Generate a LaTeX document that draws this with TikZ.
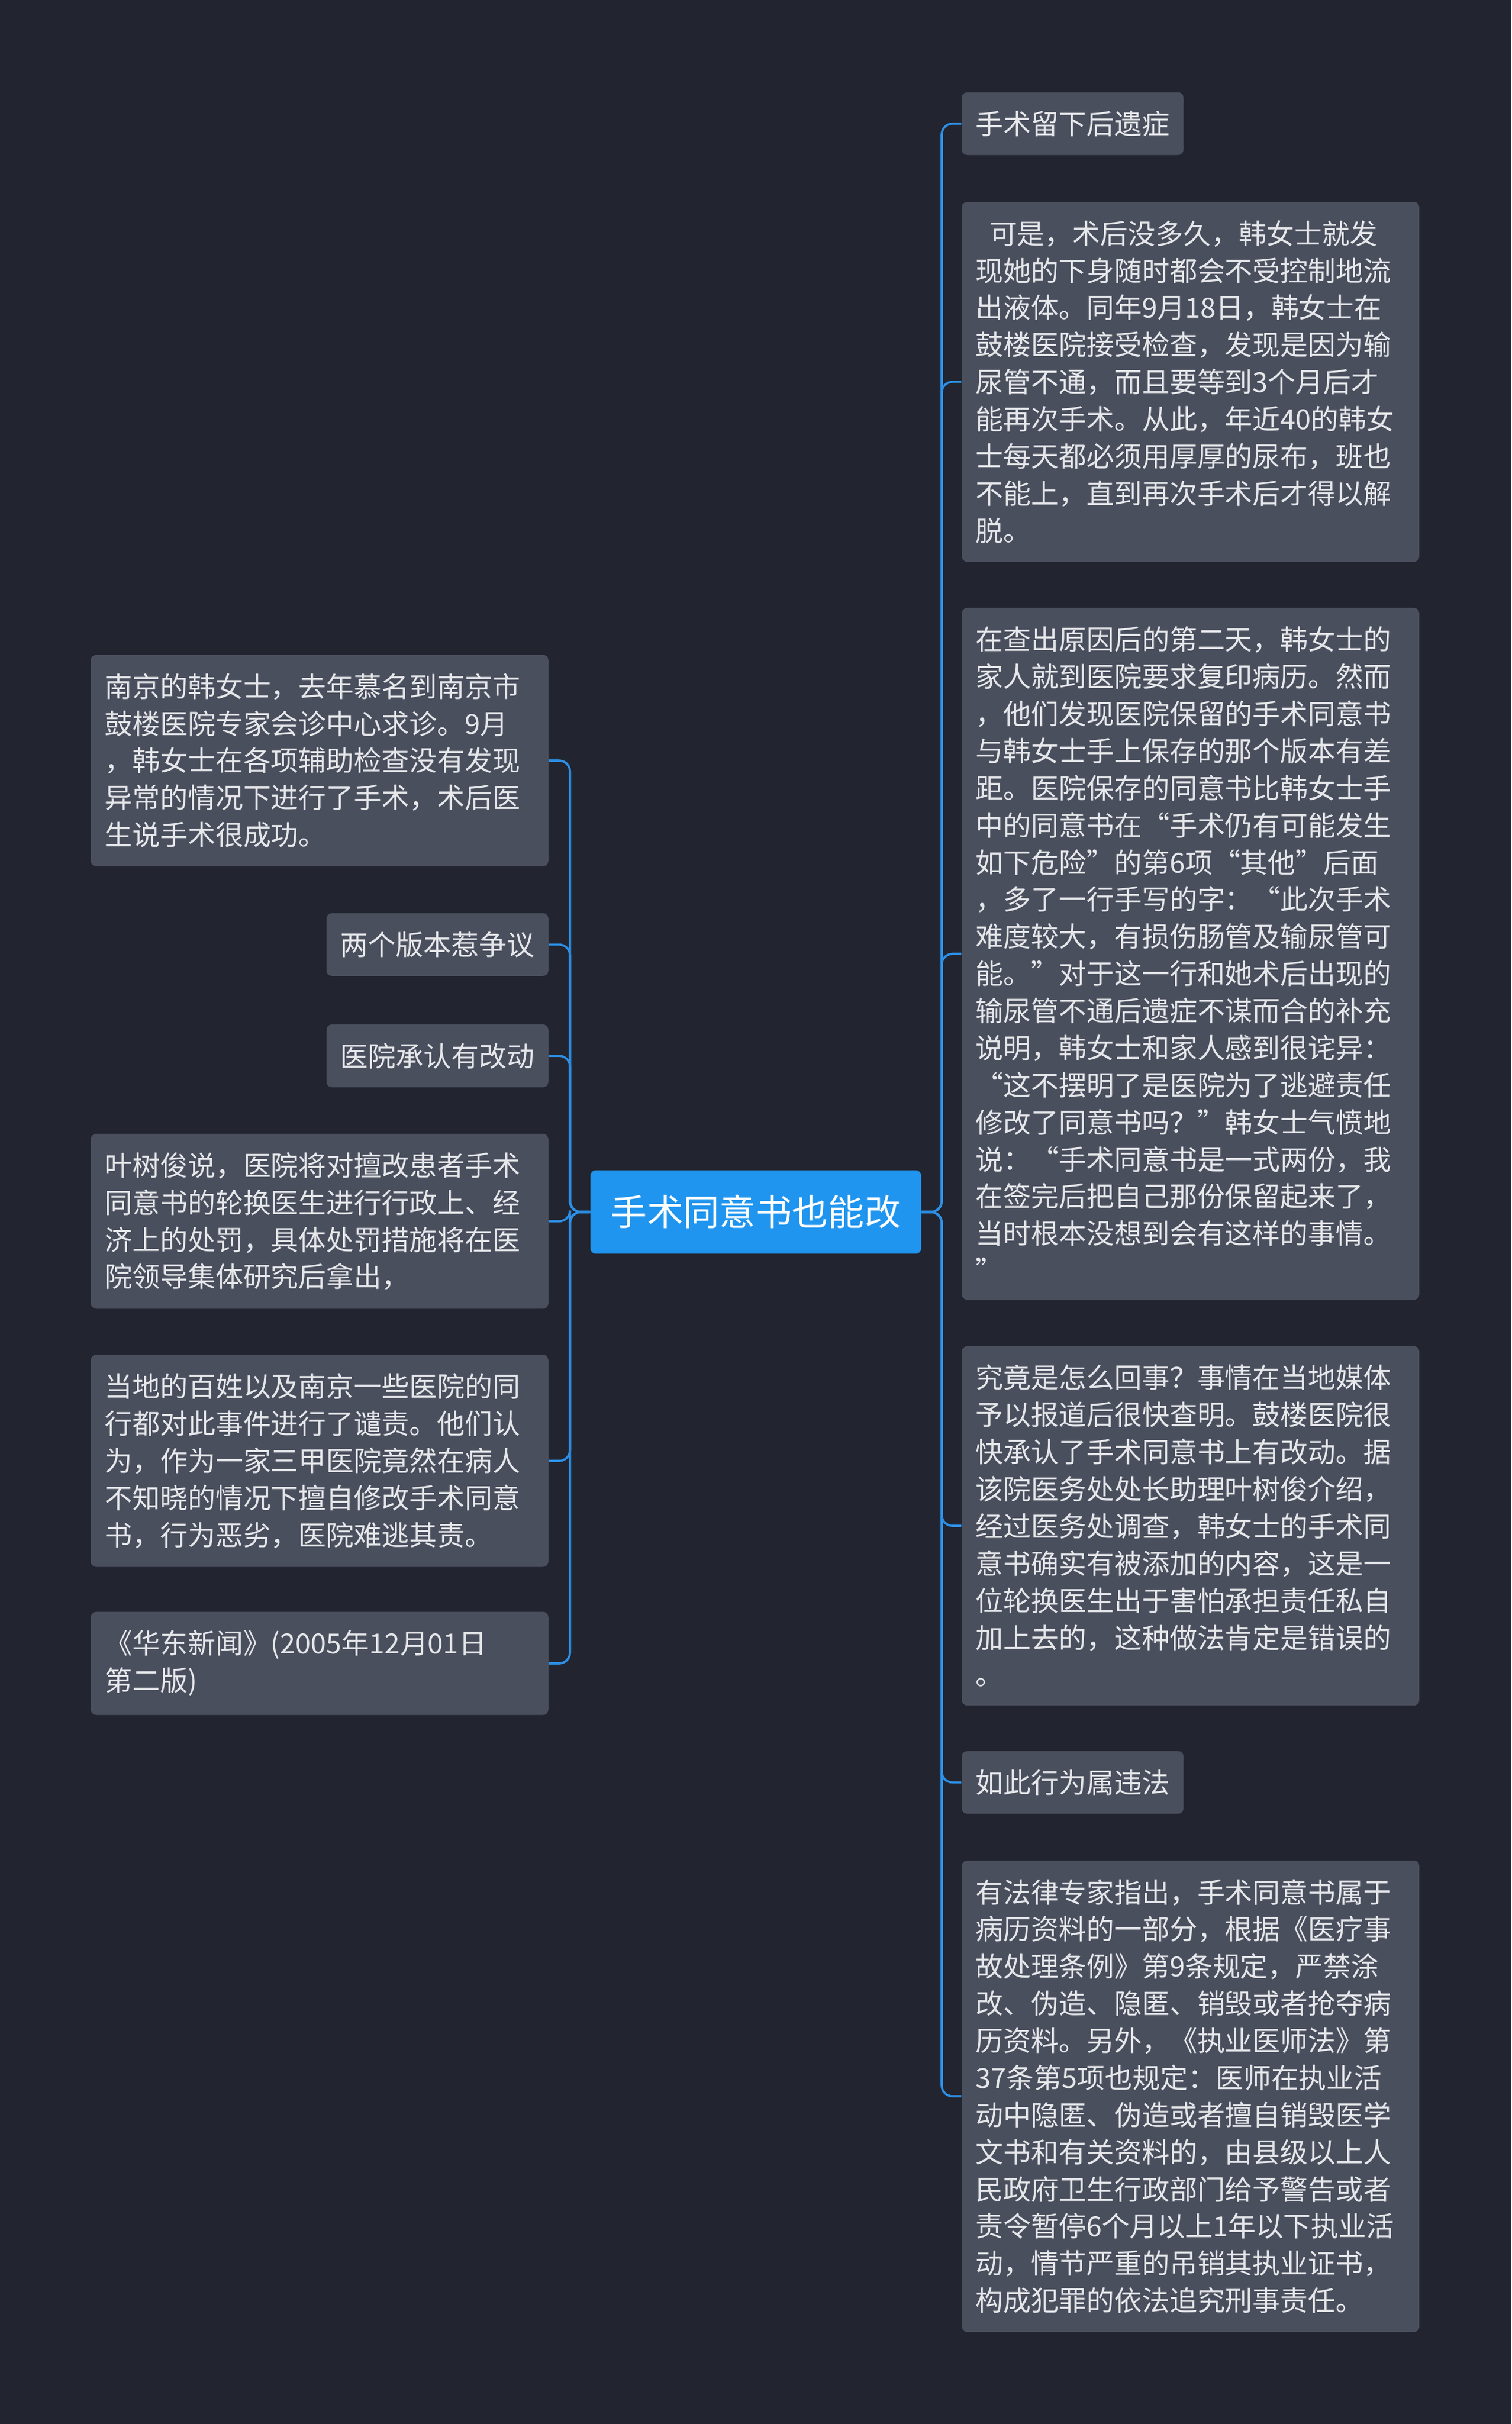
\documentclass[tikz,border=0pt]{standalone}
\usepackage{fontspec}
\setmainfont{Noto Sans CJK SC}
\definecolor{bgc}{HTML}{22252F}
\definecolor{boxc}{HTML}{4A4F5E}
\definecolor{txtc}{HTML}{E6E7EA}
\definecolor{rootc}{HTML}{1F95EF}
\definecolor{linec}{HTML}{2D8FE6}
\begin{document}
\begin{tikzpicture}[x=0.03cm,y=-0.03cm,
    leaf/.style={fill=boxc, text=txtc, rounded corners=3pt, inner xsep=0.27cm, inner ysep=0.36cm,
      font=\fontsize{15.3pt}{20.5pt}\selectfont, align=left},
    para/.style={leaf, text width=8.34cm},
    rootbox/.style={fill=rootc, text=white, rounded corners=3pt, minimum width=6.42cm,
      minimum height=1.62cm, font=\fontsize{20pt}{24pt}\selectfont},
    conn/.style={draw=linec, line width=1.2pt, rounded corners=6pt}]
    % background
    \fill[bgc] (0,0) rectangle (978,1568);

    % root
    \node[rootbox] (root) at (489,784) {手术同意书也能改};

    % left branch
    \node[para, anchor=east] (l1) at (355,492) {南京的韩女士，去年慕名到南京市\\鼓楼医院专家会诊中心求诊。9月\\，韩女士在各项辅助检查没有发现\\异常的情况下进行了手术，术后医\\生说手术很成功。};
    \node[leaf, anchor=east] (l2) at (355,611) {两个版本惹争议};
    \node[leaf, anchor=east] (l3) at (355,683) {医院承认有改动};
    \node[para, anchor=east] (l4) at (355,790) {叶树俊说，医院将对擅改患者手术\\同意书的轮换医生进行行政上、经\\济上的处罚，具体处罚措施将在医\\院领导集体研究后拿出，};
    \node[para, anchor=east] (l5) at (355,945) {当地的百姓以及南京一些医院的同\\行都对此事件进行了谴责。他们认\\为，作为一家三甲医院竟然在病人\\不知晓的情况下擅自修改手术同意\\书，行为恶劣，医院难逃其责。};
    \node[para, anchor=east] (l6) at (355,1076) {《华东新闻》(2005年12月01日\\第二版)};

    % right branch
    \node[leaf, anchor=west] (r1) at (622,80) {手术留下后遗症};
    \node[para, anchor=west] (r2) at (622,247) {\hspace{0.5em}可是，术后没多久，韩女士就发\\现她的下身随时都会不受控制地流\\出液体。同年9月18日，韩女士在\\鼓楼医院接受检查，发现是因为输\\尿管不通，而且要等到3个月后才\\能再次手术。从此，年近40的韩女\\士每天都必须用厚厚的尿布，班也\\不能上，直到再次手术后才得以解\\脱。};
    \node[para, anchor=west] (r3) at (622,617) {在查出原因后的第二天，韩女士的\\家人就到医院要求复印病历。然而\\，他们发现医院保留的手术同意书\\与韩女士手上保存的那个版本有差\\距。医院保存的同意书比韩女士手\\中的同意书在“手术仍有可能发生\\如下危险”的第6项“其他”后面\\，多了一行手写的字：“此次手术\\难度较大，有损伤肠管及输尿管可\\能。”对于这一行和她术后出现的\\输尿管不通后遗症不谋而合的补充\\说明，韩女士和家人感到很诧异：\\“这不摆明了是医院为了逃避责任\\修改了同意书吗？”韩女士气愤地\\说：“手术同意书是一式两份，我\\在签完后把自己那份保留起来了，\\当时根本没想到会有这样的事情。\\”};
    \node[para, anchor=west] (r4) at (622,987) {究竟是怎么回事？事情在当地媒体\\予以报道后很快查明。鼓楼医院很\\快承认了手术同意书上有改动。据\\该院医务处处长助理叶树俊介绍，\\经过医务处调查，韩女士的手术同\\意书确实有被添加的内容，这是一\\位轮换医生出于害怕承担责任私自\\加上去的，这种做法肯定是错误的\\。};
    \node[leaf, anchor=west] (r5) at (622,1153) {如此行为属违法};
    \node[para, anchor=west] (r6) at (622,1356) {有法律专家指出，手术同意书属于\\病历资料的一部分，根据《医疗事\\故处理条例》第9条规定，严禁涂\\改、伪造、隐匿、销毁或者抢夺病\\历资料。另外，《执业医师法》第\\37条第5项也规定：医师在执业活\\动中隐匿、伪造或者擅自销毁医学\\文书和有关资料的，由县级以上人\\民政府卫生行政部门给予警告或者\\责令暂停6个月以上1年以下执业活\\动，情节严重的吊销其执业证书，\\构成犯罪的依法追究刑事责任。};

    % connectors
    \foreach \c in {l1,l2,l3,l4,l5,l6}
      \draw[conn] (root.west) -- ++(-13,0) |- (\c.east);
    \foreach \c in {r1,r2,r3,r4,r5,r6}
      \draw[conn] (root.east) -- ++(13,0) |- (\c.west);
\end{tikzpicture}
\end{document}
